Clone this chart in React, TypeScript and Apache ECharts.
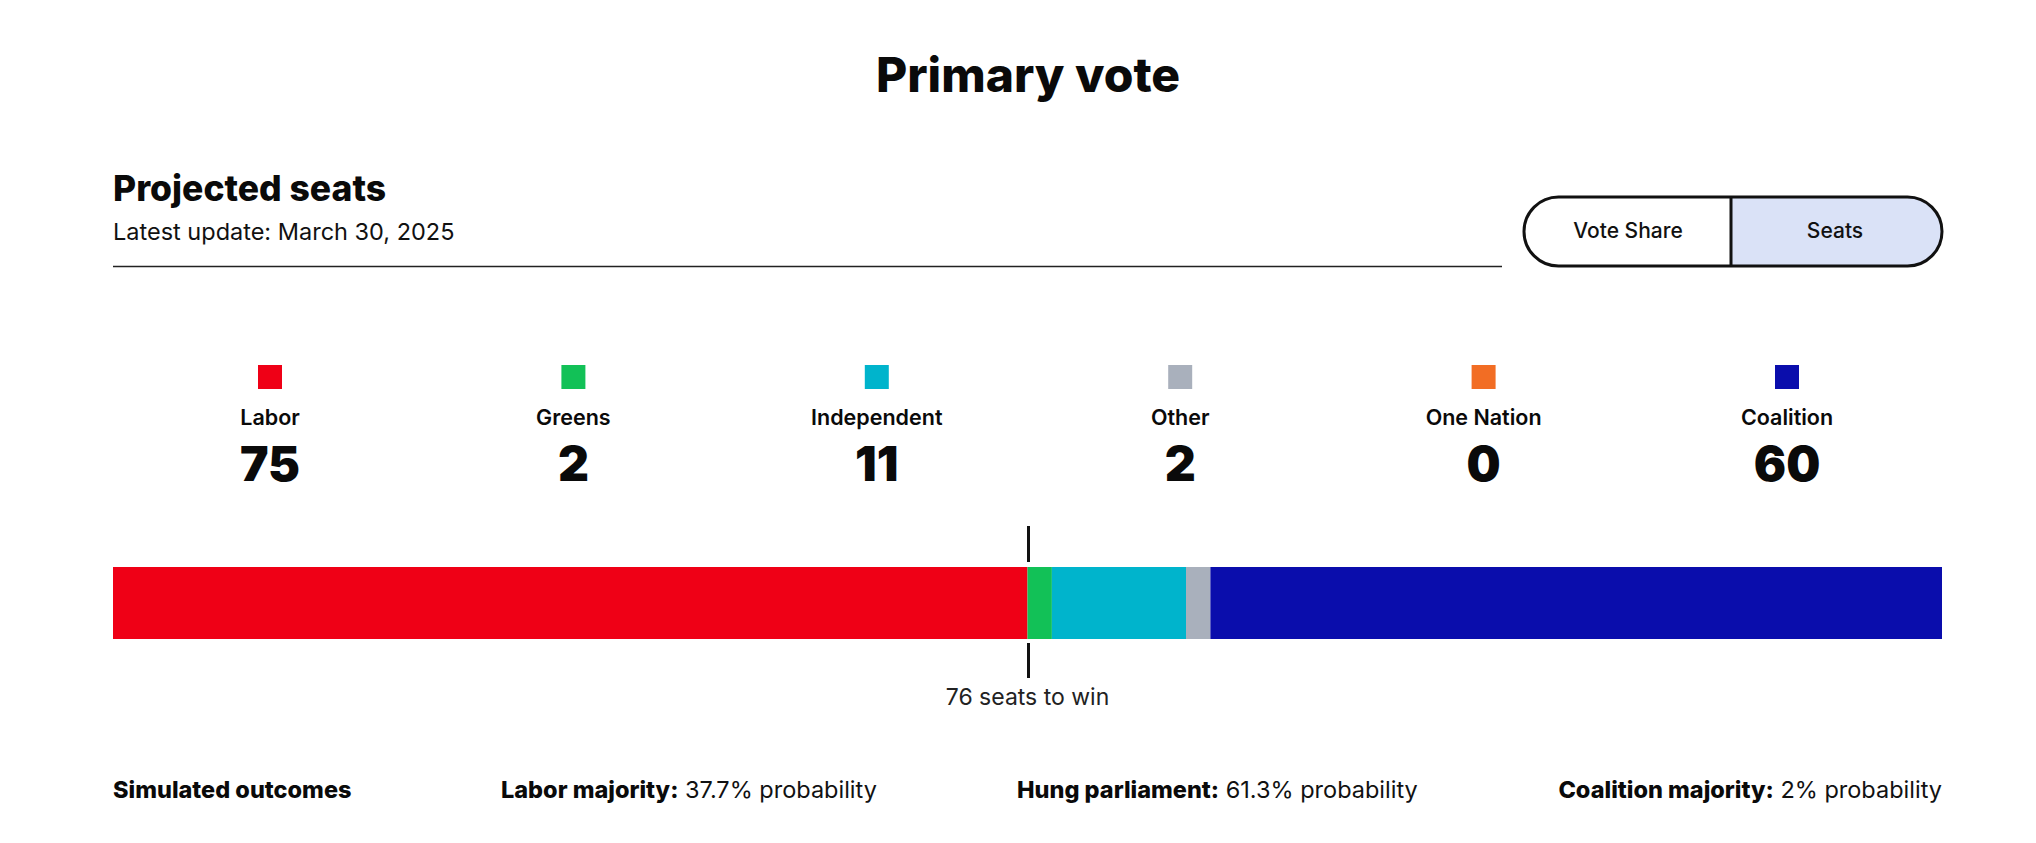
import React, { useEffect, useRef } from "react";
import * as echarts from "echarts";

const parties = ["Labor", "Greens", "Independent", "Other", "One Nation", "Coalition"];
const seats = [75, 2, 11, 2, 0, 60];
const partyColors = ["#ef0016", "#12c157", "#00b4cc", "#a9b0bc", "#f26d24", "#0a0dac"];
const totalSeats = 150;
const seatsToWin = 76;
const outcomeLabels = ["Labor majority:", "Hung parliament:", "Coalition majority:"];
const outcomeProbs = ["37.7%", "61.3%", "2%"];

const FONT = "Inter, 'Noto Sans', sans-serif";

export default function App() {
  const ref = useRef<HTMLDivElement>(null);
  useEffect(() => {
    document.body.style.margin = "0";
    document.body.style.overflow = "hidden";
    const chart = echarts.init(ref.current!, null, { renderer: "svg" });
    const barLeft = 113;
    const barRight = 1942;
    const barTop = 567;
    const barH = 72;

    const series: any[] = parties.map((p, i) => ({
      name: p,
      type: "bar",
      stack: "seats",
      data: [seats[i]],
      barWidth: barH,
      itemStyle: { color: partyColors[i] },
      emphasis: { disabled: true },
      silent: true,
    }));

    chart.setOption({
      animation: false,
      grid: { left: barLeft, right: 2036 - barRight, top: barTop, height: barH },
      xAxis: { type: "value", min: 0, max: totalSeats, show: false },
      yAxis: { type: "category", data: ["seats"], show: false },
      series,
    });

    const mid = chart.convertToPixel({ xAxisIndex: 0 }, totalSeats / 2) as number;

    const graphics: any[] = [];
    // Title
    graphics.push({
      type: "text", x: 1028, y: 74,
      style: { text: "Primary vote", fontSize: 48, fontWeight: 800, fontFamily: FONT, fill: "#0a0a0a", align: "center", verticalAlign: "middle" },
    });
    graphics.push({
      type: "text", x: 113, y: 188,
      style: { text: "Projected seats", fontSize: 35.5, fontWeight: 800, fontFamily: FONT, fill: "#0a0a0a", align: "left", verticalAlign: "middle" },
    });
    graphics.push({
      type: "text", x: 113, y: 231,
      style: { text: "Latest update: March 30, 2025", fontSize: 23.5, fontWeight: 400, fontFamily: FONT, fill: "#111", align: "left", verticalAlign: "middle" },
    });
    graphics.push({
      type: "line", shape: { x1: 113, y1: 266.5, x2: 1502, y2: 266.5 },
      style: { stroke: "#222", lineWidth: 1.5 },
    });
    // Toggle
    graphics.push({
      type: "rect", shape: { x: 1524, y: 197, width: 418, height: 69, r: 34.5 },
      style: { fill: "#ffffff" },
    });
    graphics.push({
      type: "rect", shape: { x: 1731, y: 197, width: 211, height: 69, r: [0, 34.5, 34.5, 0] },
      style: { fill: "#dae2f7" },
    });
    graphics.push({
      type: "rect", shape: { x: 1524, y: 197, width: 418, height: 69, r: 34.5 },
      style: { fill: "none", stroke: "#111", lineWidth: 3 },
    });
    graphics.push({
      type: "line", shape: { x1: 1731, y1: 197, x2: 1731, y2: 266 },
      style: { stroke: "#111", lineWidth: 3 },
    });
    graphics.push({
      type: "text", x: 1628, y: 230,
      style: { text: "Vote Share", fontSize: 21, fontWeight: 500, fontFamily: FONT, fill: "#111", align: "center", verticalAlign: "middle" },
    });
    graphics.push({
      type: "text", x: 1835, y: 230,
      style: { text: "Seats", fontSize: 21, fontWeight: 500, fontFamily: FONT, fill: "#111", align: "center", verticalAlign: "middle" },
    });

    // Legend columns
    const colStart = 270;
    const colStep = 303.4;
    parties.forEach((p, i) => {
      const cx = colStart + i * colStep;
      graphics.push({
        type: "rect", shape: { x: cx - 12, y: 365, width: 24, height: 24 },
        style: { fill: partyColors[i] },
      });
      graphics.push({
        type: "text", x: cx, y: 417,
        style: { text: p, fontSize: 21.5, fontWeight: 600, fontFamily: FONT, fill: "#0a0a0a", align: "center", verticalAlign: "middle" },
      });
      graphics.push({
        type: "text", x: cx, y: 463,
        style: { text: String(seats[i]), fontSize: 48, fontWeight: 900, fontFamily: FONT, fill: "#0a0a0a", align: "center", verticalAlign: "middle" },
      });
    });

    // Majority line
    graphics.push({
      type: "line", shape: { x1: mid + 1, y1: 526, x2: mid + 1, y2: 562 },
      style: { stroke: "#111", lineWidth: 3 },
    });
    graphics.push({
      type: "line", shape: { x1: mid + 1, y1: 643, x2: mid + 1, y2: 678 },
      style: { stroke: "#111", lineWidth: 3 },
    });
    graphics.push({
      type: "text", x: mid, y: 697,
      style: { text: `${seatsToWin} seats to win`, fontSize: 23, fontWeight: 400, fontFamily: FONT, fill: "#222", align: "center", verticalAlign: "middle" },
    });

    // Outcomes
    const rich = {
      b: { fontSize: 23.5, fontWeight: 800, fontFamily: FONT, fill: "#0a0a0a" },
      r: { fontSize: 23.5, fontWeight: 400, fontFamily: FONT, fill: "#111" },
    };
    graphics.push({
      type: "text", x: 113, y: 789,
      style: { text: "{b|Simulated outcomes}", rich, align: "left", verticalAlign: "middle" },
    });
    const outX = [501, 1017, 1942];
    const outAlign = ["left", "left", "right"];
    outcomeLabels.forEach((l, i) => {
      graphics.push({
        type: "text", x: outX[i], y: 789,
        style: { text: `{b|${l}}{r| ${outcomeProbs[i]} probability}`, rich, align: outAlign[i], verticalAlign: "middle" },
      });
    });

    chart.setOption({ graphic: graphics });
    return () => chart.dispose();
  }, []);
  return <div ref={ref} style={{ width: 2036, height: 843 }} />;
}
